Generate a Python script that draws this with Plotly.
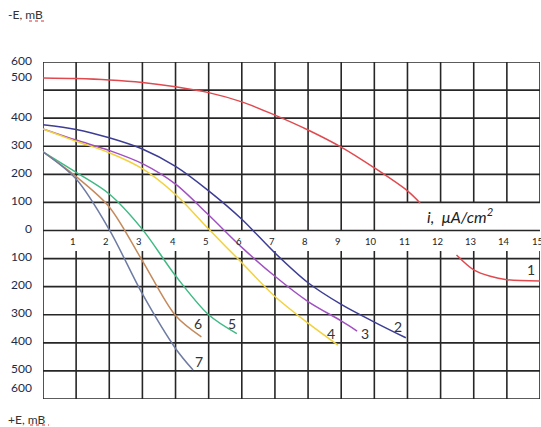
import plotly.graph_objects as go

# ---------------- data ----------------
x_ticks = list(range(1, 16))
x_tick_labels = [str(v) for v in x_ticks]
y_ticks = [600, 500, 400, 300, 200, 100, 0, -100, -200, -300, -400, -500, -600]
y_tick_labels = ["600", "500", "400", "300", "200", "100", "0",
                 "100", "200", "300", "400", "500", "600"]

# curve 1 (two branches)
c1_upper_i = [0, 1, 2, 3, 4, 5, 6, 7, 8, 9, 10, 11, 11.38]
c1_upper_E = [543, 541, 536, 527, 512, 491, 458, 411, 358, 297, 223, 141, 98]
c1_lower_i = [12.48, 13, 13.5, 14, 15]
c1_lower_E = [-87, -140, -163, -175, -180]

c2_i = [0, 1, 2, 3, 4, 5, 6, 7, 8, 9, 10, 10.95]
c2_E = [377, 360, 330, 290, 228, 141, 40, -80, -186, -263, -326, -382]

c3_i = [0, 1, 2, 3, 4, 5, 6, 7, 8, 9, 9.48]
c3_E = [362, 322, 285, 238, 165, 55, -60, -163, -253, -322, -358]

c4_i = [0, 1, 2, 3, 4, 5, 6, 7, 8, 8.9]
c4_E = [362, 318, 277, 220, 128, 5, -115, -235, -330, -408]

c5_i = [0, 1, 2, 3, 4, 5, 5.85]
c5_E = [280, 207, 130, 4, -161, -300, -367]

c6_i = [0, 1, 2, 3, 4, 4.78]
c6_E = [280, 192, 84, -108, -303, -379]

c7_i = [0, 1, 2, 3, 4, 4.53]
c7_E = [280, 183, 3, -226, -420, -497]

curve_labels = ["1", "2", "3", "4", "5", "6", "7"]

# ---------------- figure ----------------
W, H = 541, 427
ML, MR, MT, MB = 43, 1, 62, 28
FONT = "Lato, 'Open Sans', sans-serif"

colors = {
    "1": "#e04a4f",
    "2": "#3d3d96",
    "3": "#a150c2",
    "4": "#f2d23c",
    "5": "#3fba84",
    "6": "#c58a5c",
    "7": "#6e7ca3",
}

fig = go.Figure()

def add_curve(xs, ys, col):
    fig.add_trace(go.Scatter(
        x=xs, y=ys, mode="lines",
        line=dict(color=col, width=1.5, shape="spline", smoothing=0.9),
        hoverinfo="skip", showlegend=False))

add_curve(c1_upper_i, c1_upper_E, colors["1"])
add_curve(c1_lower_i, c1_lower_E, colors["1"])
add_curve(c2_i, c2_E, colors["2"])
add_curve(c3_i, c3_E, colors["3"])
add_curve(c4_i, c4_E, colors["4"])
add_curve(c5_i, c5_E, colors["5"])
add_curve(c6_i, c6_E, colors["6"])
add_curve(c7_i, c7_E, colors["7"])

shapes = []
GRID = "#262626"
# horizontal grid lines
for v in y_ticks:
    shapes.append(dict(type="line", xref="x", yref="y", x0=0, x1=15, y0=v, y1=v,
                       line=dict(color=GRID, width=1.6), layer="below"))
# vertical grid lines (broken by tick-label band and the axis-title box)
for k in range(0, 16):
    if k == 0:
        shapes.append(dict(type="line", xref="x", yref="y", x0=0, x1=0, y0=-600, y1=600,
                           line=dict(color=GRID, width=1.6), layer="below"))
        continue
    top_start = 100 if k >= 11 else 0
    shapes.append(dict(type="line", xref="x", yref="y", x0=k, x1=k, y0=top_start, y1=600,
                       line=dict(color=GRID, width=1.6), layer="below"))
    shapes.append(dict(type="line", xref="x", yref="y", x0=k, x1=k, y0=-600, y1=-73,
                       line=dict(color=GRID, width=1.6), layer="below"))

pw = W - ML - MR
ph = H - MT - MB
def px_x(px):
    return (px - ML) / pw
def px_y(py):
    return (H - MB - py) / ph

# red spell-check style dotted underline under "mB"
shapes.append(dict(type="line", xref="paper", yref="paper",
                   x0=px_x(29), x1=px_x(47), y0=px_y(21), y1=px_y(21),
                   line=dict(color="#e03030", width=1, dash="dot")))
shapes.append(dict(type="line", xref="paper", yref="paper",
                   x0=px_x(30), x1=px_x(49), y0=px_y(425), y1=px_y(425),
                   line=dict(color="#e03030", width=1, dash="dot")))

annotations = []
# y labels (hand-placed in the original)
y_nudge = {600: 2, 500: 14, -600: 12}
for v, t in zip(y_ticks, y_tick_labels):
    annotations.append(dict(xref="paper", yref="y", x=0, y=v, text=t, showarrow=False,
                            xanchor="right", yanchor="middle", xshift=-9,
                            yshift=y_nudge.get(v, 2),
                            font=dict(family=FONT, size=12, color="#1c2a4a")))
# x labels in the gap below the zero line
for v, t in zip(x_ticks, x_tick_labels):
    annotations.append(dict(xref="x", yref="y", x=v, y=0, text=t, showarrow=False,
                            xanchor="center", yanchor="middle", xshift=-3, yshift=-11,
                            font=dict(family=FONT, size=9.5, color="#222222")))

# axis captions
annotations.append(dict(xref="paper", yref="paper", x=px_x(6), y=px_y(15), text="-E, mB",
                        showarrow=False, xanchor="left", yanchor="middle",
                        font=dict(family=FONT, size=12, color="#333333")))
annotations.append(dict(xref="paper", yref="paper", x=px_x(6), y=px_y(419), text="+E, mB",
                        showarrow=False, xanchor="left", yanchor="middle",
                        font=dict(family=FONT, size=12, color="#333333")))
annotations.append(dict(xref="x", yref="y", x=12.6, y=52,
                        text="<i>i,  \u03bcA/cm<sup>2</sup></i>",
                        showarrow=False, xanchor="center", yanchor="middle",
                        font=dict(family=FONT, size=16, color="#222222")))

# curve numbers
label_pos = [(14.73, -138), (10.72, -343), (9.72, -368), (8.7, -365),
             (5.71, -332), (4.68, -332), (4.71, -467)]
for t, (lx, ly) in zip(curve_labels, label_pos):
    annotations.append(dict(xref="x", yref="y", x=lx, y=ly, text=t, showarrow=False,
                            xanchor="center", yanchor="middle",
                            font=dict(family=FONT, size=14, color="#333333")))

fig.update_layout(
    width=W, height=H,
    margin=dict(l=ML, r=MR, t=MT, b=MB, pad=0),
    paper_bgcolor="white", plot_bgcolor="white",
    xaxis=dict(range=[0, 15], visible=False, fixedrange=True),
    yaxis=dict(range=[-600, 600], visible=False, fixedrange=True),
    shapes=shapes, annotations=annotations,
    showlegend=False,
)

fig.write_html("out.html",
               config={"displayModeBar": False},
               post_script="document.body.style.margin='0';document.body.style.padding='0';")
